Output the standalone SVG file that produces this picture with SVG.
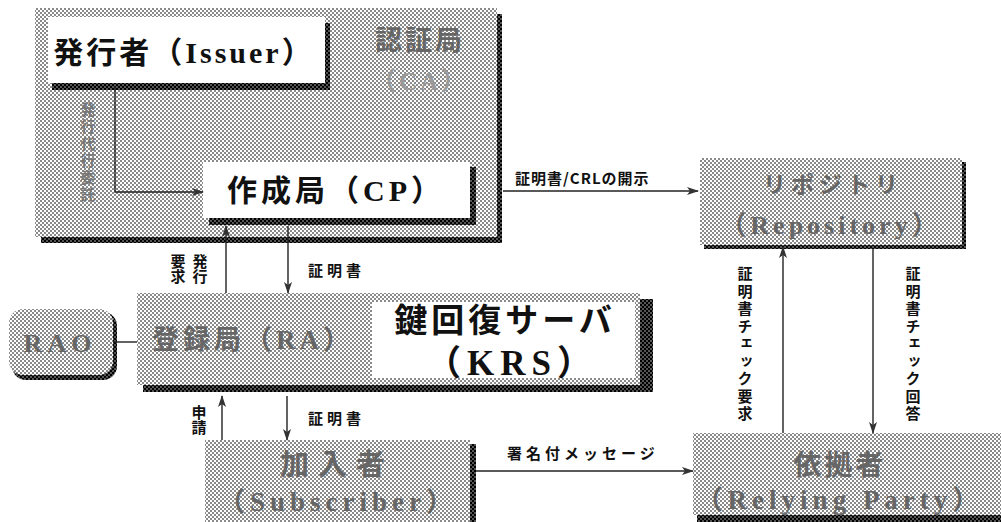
<svg xmlns="http://www.w3.org/2000/svg" width="1001" height="522" viewBox="0 0 1001 522">
<defs>
<pattern id="ht" width="4" height="4" patternUnits="userSpaceOnUse">
<rect width="4" height="4" fill="#fff"/>
<rect width="2" height="2" fill="#8a8a8a"/>
<rect x="2" y="2" width="2" height="2" fill="#8a8a8a"/>
</pattern>
<pattern id="dk" width="4" height="4" patternUnits="userSpaceOnUse">
<rect width="4" height="4" fill="#555"/>
<rect width="2" height="2" fill="#000"/>
<rect x="2" y="2" width="2" height="2" fill="#000"/>
</pattern>
<marker id="ah" viewBox="0 0 12 8" refX="11" refY="4" markerWidth="12" markerHeight="8" markerUnits="userSpaceOnUse" orient="auto">
<path d="M0,0 L12,4 L0,8 L3,4 Z" fill="#333"/>
</marker>
</defs>
<style>
.grey{fill:url(#ht)}
.shadow{fill:url(#dk)}
.white{fill:#fff}
.big{font-family:"Liberation Serif","Noto Sans CJK JP",serif;font-weight:bold;text-anchor:middle}
.lbl{font-family:"Noto Sans CJK JP","Liberation Sans",sans-serif;font-weight:bold;font-size:15px;fill:#111}
.vert{writing-mode:vertical-rl;text-orientation:upright;letter-spacing:2.5px}
.dim{fill:#666}
.line{fill:none;stroke:#222;stroke-width:1.4}
</style>
<rect width="1001" height="522" fill="#fff"/>

<g id="ca">
<rect x="41" y="14" width="461" height="229" class="shadow"/>
<rect x="35" y="8" width="462" height="229" class="grey"/>
<text x="420" y="50" class="big dim" font-size="27" letter-spacing="3">認証局</text>
<text x="420" y="90" class="big" font-size="25" fill="#9a9a9a" letter-spacing="3">（CA）</text>
<text x="88" y="102" class="lbl vert" style="font-size:15px;fill:#777;letter-spacing:2px">発行代行委託</text>
</g>

<g id="issuer">
<rect x="52" y="23" width="278" height="67" class="shadow"/>
<rect x="48" y="17" width="277" height="66" class="white"/>
<text x="184" y="63" class="big" font-size="30" letter-spacing="3" fill="#111">発行者（Issuer）</text>
</g>

<g id="cp">
<rect x="209" y="167" width="267" height="58" class="shadow"/>
<rect x="203" y="162" width="267" height="56" class="white"/>
<text x="336" y="201" class="big" font-size="30" letter-spacing="4" fill="#111">作成局（CP）</text>
</g>

<g id="repository">
<rect x="704" y="162" width="262" height="87" class="shadow"/>
<rect x="700" y="158" width="262" height="87" class="grey"/>
<text x="833" y="193" class="big dim" font-size="23" letter-spacing="5">リポジトリ</text>
<text x="831" y="234" class="big dim" font-size="26" letter-spacing="4">（Repository）</text>
</g>

<g id="ra-krs">
<rect x="143" y="299" width="510" height="93" class="shadow"/>
<rect x="137" y="293" width="503" height="92" class="grey"/>
<rect x="372" y="302" width="263" height="76" class="white"/>
<text x="253" y="349" class="big dim" font-size="27" letter-spacing="4">登録局（RA）</text>
<text x="505" y="332" class="big" font-size="33" letter-spacing="4" fill="#111">鍵回復サーバ</text>
<text x="512" y="375" class="big" font-size="35" letter-spacing="6" fill="#111">（KRS）</text>
</g>

<g id="rao">
<rect x="12" y="312" width="105" height="68" rx="14" class="shadow"/>
<rect x="9" y="309" width="104" height="66" rx="14" class="grey"/>
<text x="60" y="352" class="big dim" font-size="26" letter-spacing="5">RAO</text>
</g>

<g id="subscriber">
<rect x="209" y="444" width="267" height="78" class="shadow"/>
<rect x="205" y="440" width="265" height="82" class="grey"/>
<text x="337" y="475" class="big dim" font-size="29" letter-spacing="9">加入者</text>
<text x="338" y="511" class="big dim" font-size="27" letter-spacing="5">（Subscriber）</text>
</g>

<g id="relying-party">
<rect x="697" y="437" width="304" height="85" class="shadow"/>
<rect x="693" y="433" width="308" height="82" class="grey"/>
<text x="840" y="475" class="big dim" font-size="28" letter-spacing="3">依拠者</text>
<text x="840" y="509" class="big dim" font-size="27" letter-spacing="5">（Relying Party）</text>
</g>

<g id="connectors">
<path class="line" d="M115,86 V192 H203" marker-end="url(#ah)"/>
<path class="line" d="M503,191 H698" marker-end="url(#ah)"/>
<path class="line" d="M226,293 V226" marker-end="url(#ah)"/>
<path class="line" d="M288,226 V293" marker-end="url(#ah)"/>
<path class="line" d="M113,342 H137"/>
<path class="line" d="M222,440 V396" marker-end="url(#ah)"/>
<path class="line" d="M287,396 V440" marker-end="url(#ah)"/>
<path class="line" d="M873,249 V433" marker-end="url(#ah)"/>
<path class="line" d="M783,433 V247" marker-end="url(#ah)"/>
<path class="line" d="M476,471 H693" marker-end="url(#ah)"/>
</g>

<g id="labels">
<text x="515" y="184" class="lbl" letter-spacing="1">証明書/CRLの開示</text>
<text x="200" y="254" class="lbl vert" style="letter-spacing:0">発行</text>
<text x="178" y="254" class="lbl vert" style="letter-spacing:0">要求</text>
<text x="308" y="276" class="lbl" letter-spacing="4">証明書</text>
<text x="199" y="405" class="lbl vert" style="letter-spacing:0">申請</text>
<text x="308" y="424" class="lbl" letter-spacing="4">証明書</text>
<text x="507" y="459" class="lbl" letter-spacing="4">署名付メッセージ</text>
<text x="745" y="266" class="lbl vert">証明書チェック要求</text>
<text x="913" y="266" class="lbl vert">証明書チェック回答</text>
</g>
</svg>
